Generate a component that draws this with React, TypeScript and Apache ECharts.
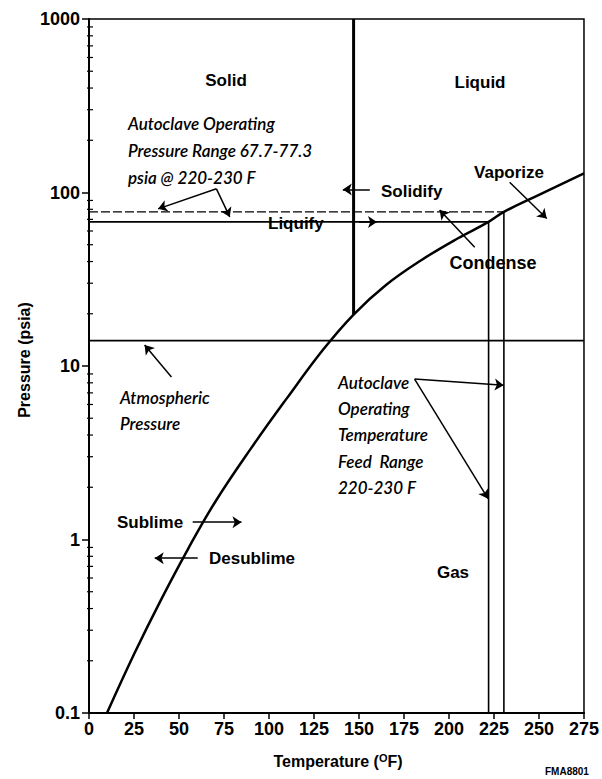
import React, { useEffect, useRef } from "react";
import * as echarts from "echarts";

// ---- data ----
const tempTicks = [0, 25, 50, 75, 100, 125, 150, 175, 200, 225, 250, 275];
const pressureDecades = [0.1, 1, 10, 100];
const minorMultipliers = [2, 3, 4, 5, 6, 7, 8, 9];

// sublimation / vapour-pressure curve (°F, psia)
const curveTemp = [10, 25, 40, 55, 70, 90, 110, 130, 147, 165, 185, 205, 222, 230.5, 250, 275];
const curvePsia = [0.1, 0.218, 0.449, 0.881, 1.64, 3.35, 6.53, 12.4, 19.8, 29.3, 41.0, 54.5, 67.7, 77.3, 97, 129];

// reference lines
const solidifyLine = [[147, 1000], [147, 19.8]];
const liquifyLine = [[0, 67.7], [222, 67.7]];
const upperPressureLine = [[0, 77.3], [230.5, 77.3]];
const atmosphericLine = [[0, 14.0], [275, 14.0]];
const lowTempLine = [[222, 67.7], [222, 0.1]];
const highTempLine = [[230.5, 77.3], [230.5, 0.1]];

// annotation arrows: [from, to] in (°F, psia)
const arrows = [
  [[70.8, 105], [38.4, 80.5]],
  [[70.8, 105], [78.2, 72.3]],
  [[156, 104], [141, 104]],
  [[150, 67.7], [160, 67.7]],
  [[214.3, 48.4], [194.8, 79.3]],
  [[233.7, 114.6], [254.3, 70.9]],
  [[45.8, 8.65], [30.9, 13.2]],
  [[180.9, 8.41], [230.4, 7.75]],
  [[180.9, 8.41], [221.7, 1.72]],
  [[57.6, 1.258], [84.7, 1.258]],
  [[60.4, 0.78], [36.5, 0.78]],
];

const BOLD = (s: number) => `bold ${s}px "Liberation Sans", Arial, sans-serif`;
const ITAL = `italic 600 17px Lato, "Open Sans", sans-serif`;

function lineSeries(data: number[][], width: number, type: any = "solid") {
  return {
    type: "line",
    data,
    showSymbol: false,
    symbol: "none",
    silent: true,
    lineStyle: { color: "#000", width, type },
    z: 3,
  };
}

function txt(x: number, y: number, text: string, font: string, align = "left") {
  return {
    type: "text",
    x,
    y,
    z: 10,
    style: { text, font, fill: "#000", textAlign: align, textVerticalAlign: "middle" },
  };
}

export default function App() {
  const ref = useRef<HTMLDivElement>(null);
  useEffect(() => {
    if (!ref.current) return;
    const chart = echarts.init(ref.current, undefined, { renderer: "svg" });
    const minorTicks: number[] = [];
    pressureDecades.forEach((d) => minorMultipliers.forEach((m) => minorTicks.push(d * m)));

    const option: any = {
      animation: false,
      grid: {
        left: 89,
        right: 17,
        top: 19,
        bottom: 66,
        show: true,
        borderColor: "#000",
        borderWidth: 1.5,
      },
      xAxis: {
        type: "value",
        min: tempTicks[0],
        max: tempTicks[tempTicks.length - 1],
        interval: 25,
        axisLine: { show: true, onZero: false, lineStyle: { color: "#000", width: 2 } },
        axisTick: { show: true, length: 6, lineStyle: { color: "#000", width: 1.5 } },
        axisLabel: {
          color: "#000",
          fontFamily: "Liberation Sans",
          fontWeight: "bold",
          fontSize: 18,
          margin: 7,
        },
        splitLine: { show: false },
      },
      yAxis: {
        type: "log",
        logBase: 10,
        min: 0.1,
        max: 1000,
        axisLine: { show: true, lineStyle: { color: "#000", width: 2 } },
        axisTick: { show: true, length: 7, lineStyle: { color: "#000", width: 1.5 } },
        axisLabel: {
          color: "#000",
          fontFamily: "Liberation Sans",
          fontWeight: "bold",
          fontSize: 18,
          margin: 9,
          formatter: (v: number) => (v < 1 ? "0.1" : String(Math.round(v))),
        },
        splitLine: { show: false },
      },
      series: [
        {
          type: "custom",
          coordinateSystem: "cartesian2d",
          silent: true,
          data: minorTicks.map((v) => [0, v]),
          renderItem: (params: any, api: any) => {
            const p = api.coord([0, api.value(1)]);
            return {
              type: "line",
              shape: { x1: p[0] - 2, y1: p[1], x2: p[0] + 4, y2: p[1] },
              style: { stroke: "#000", lineWidth: 1.2 },
            };
          },
          z: 5,
        },
        {
          type: "line",
          data: curveTemp.map((t, i) => [t, curvePsia[i]]),
          smooth: 0.4,
          showSymbol: false,
          symbol: "none",
          silent: true,
          lineStyle: { color: "#000", width: 2.5 },
          z: 4,
        },
        lineSeries(solidifyLine, 3),
        lineSeries(liquifyLine, 1.6),
        lineSeries(upperPressureLine, 1.2, [9, 3]),
        lineSeries(atmosphericLine, 1.6),
        lineSeries(lowTempLine, 1.6),
        lineSeries(highTempLine, 1.6),
        {
          type: "lines",
          coordinateSystem: "cartesian2d",
          silent: true,
          symbol: ["none", "arrow"],
          symbolSize: 9,
          lineStyle: { color: "#000", width: 1.5, opacity: 1 },
          data: arrows.map((a) => ({ coords: a })),
          z: 6,
        },
      ],
      graphic: [
        txt(226, 80, "Solid", BOLD(17), "center"),
        txt(480, 82, "Liquid", BOLD(17), "center"),
        txt(128, 123, "Autoclave Operating", ITAL),
        txt(128, 150, "Pressure Range 67.7-77.3", ITAL),
        txt(128, 177, "psia @ 220-230 F", ITAL),
        txt(381, 191, "Solidify", BOLD(17)),
        txt(268, 223, "Liquify", BOLD(17)),
        txt(493, 263, "Condense", BOLD(18), "center"),
        txt(509, 172, "Vaporize", BOLD(17), "center"),
        txt(120, 397, "Atmospheric", ITAL),
        txt(120, 423, "Pressure", ITAL),
        txt(338, 382, "Autoclave", ITAL),
        txt(338, 408, "Operating", ITAL),
        txt(338, 434, "Temperature", ITAL),
        txt(338, 461, "Feed  Range", ITAL),
        txt(338, 487, "220-230 F", ITAL),
        txt(453, 572, "Gas", BOLD(17), "center"),
        txt(117, 522, "Sublime", BOLD(17)),
        txt(209, 558, "Desublime", BOLD(17)),
        {
          type: "text",
          x: 24,
          y: 360,
          rotation: Math.PI / 2,
          z: 10,
          style: {
            text: "Pressure (psia)",
            font: BOLD(16),
            fill: "#000",
            textAlign: "center",
            textVerticalAlign: "middle",
          },
        },
        {
          type: "text",
          x: 338,
          y: 761,
          z: 10,
          style: {
            text: "Temperature ({sup|O}F)",
            font: BOLD(16),
            fill: "#000",
            textAlign: "center",
            textVerticalAlign: "middle",
            rich: {
              sup: {
                font: BOLD(11),
                fill: "#000",
                verticalAlign: "top",
                lineHeight: 18,
                padding: [0, 0, 8, 0],
              },
            },
          },
        },
        {
          type: "text",
          x: 545,
          y: 766,
          z: 10,
          style: { text: "FMA8801", font: BOLD(10), fill: "#000", textAlign: "left", textVerticalAlign: "top" },
        },
      ],
    };
    chart.setOption(option);
    return () => chart.dispose();
  }, []);
  return (
    <div
      ref={ref}
      style={{ position: "fixed", left: 0, top: 0, width: 602, height: 779, background: "#fff" }}
    />
  );
}
